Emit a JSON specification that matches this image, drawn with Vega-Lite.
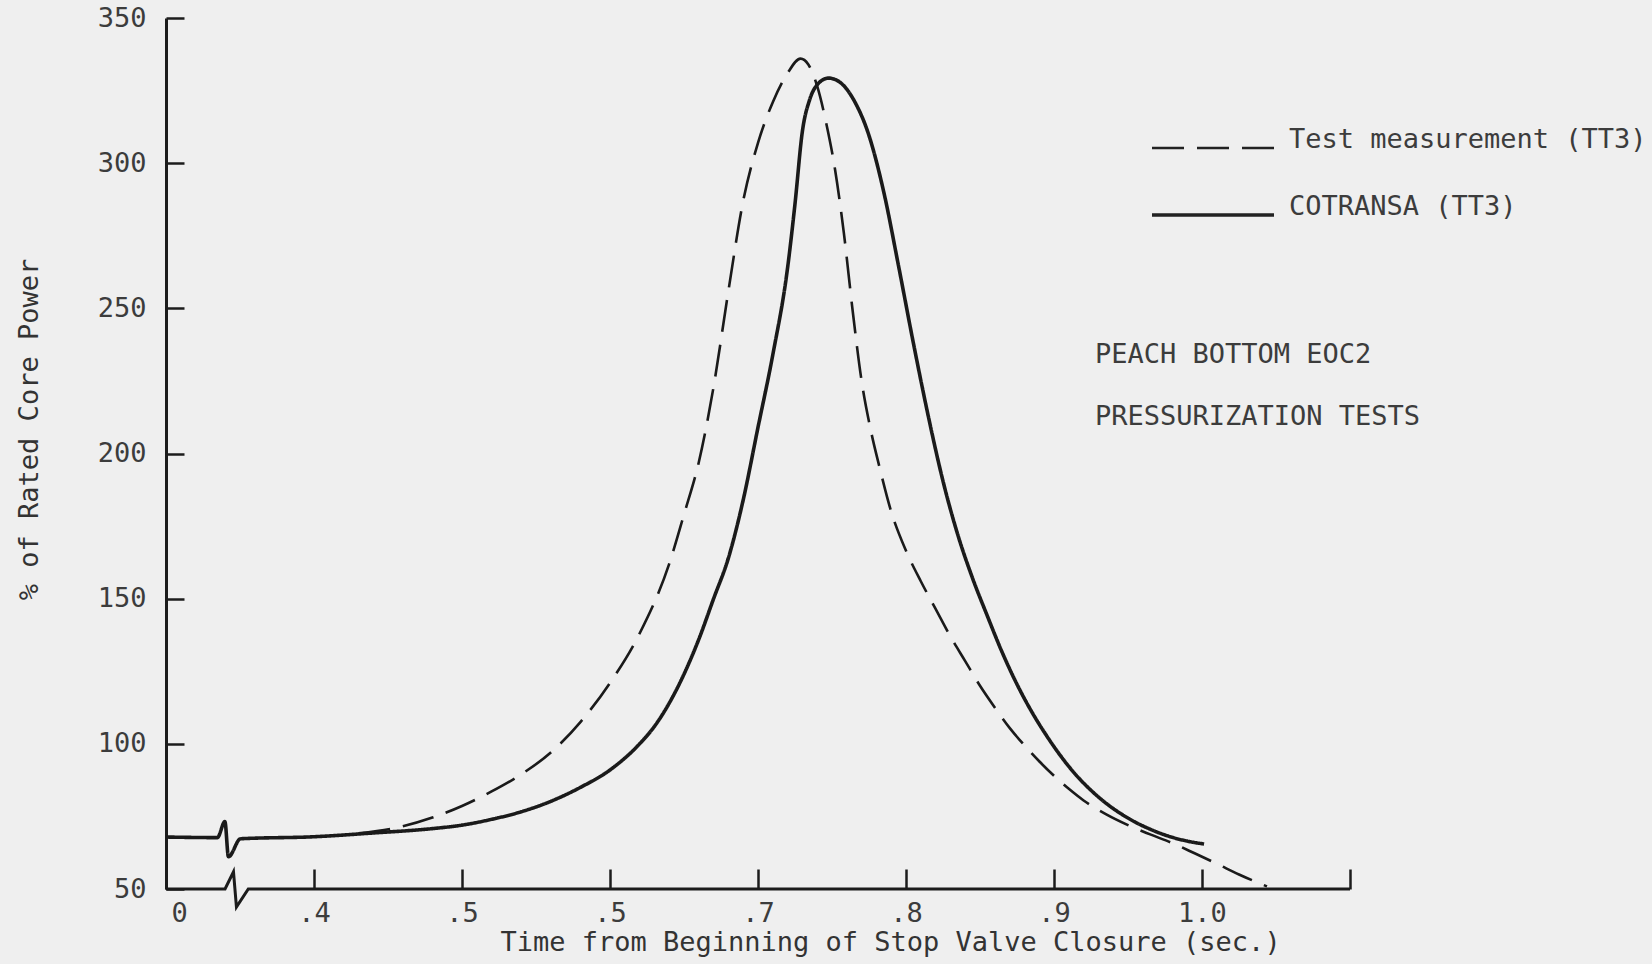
{
  "$schema": "https://vega.github.io/schema/vega-lite/v6.json",
  "width": 1184,
  "height": 871,
  "autosize": {"type": "none"},
  "padding": {"left": 166, "top": 18, "right": 302, "bottom": 75},
  "background": "#efefef",
  "config": {
    "view": {"stroke": null},
    "font": "DejaVu Sans Mono",
    "axis": {"grid": false, "labelFont": "DejaVu Sans Mono", "titleFont": "DejaVu Sans Mono", "labelFontSize": 27, "titleFontSize": 27, "titleFontWeight": "normal", "labelColor": "#3c3c3c", "titleColor": "#333333", "tickColor": "#1c1c1c", "domainColor": "#1c1c1c"}
  },
  "datasets": {
    "curves": [
      {"t": 0.3, "power": 67.9, "series": "COTRANSA (TT3)"},
      {"t": 0.3347, "power": 67.7, "series": "COTRANSA (TT3)"},
      {"t": 0.3398, "power": 73.2, "series": "COTRANSA (TT3)"},
      {"t": 0.3422, "power": 61.1, "series": "COTRANSA (TT3)"},
      {"t": 0.3504, "power": 67.3, "series": "COTRANSA (TT3)"},
      {"t": 0.40, "power": 68.0, "series": "COTRANSA (TT3)"},
      {"t": 0.44, "power": 69.3, "series": "COTRANSA (TT3)"},
      {"t": 0.48, "power": 70.8, "series": "COTRANSA (TT3)"},
      {"t": 0.50, "power": 72.0, "series": "COTRANSA (TT3)"},
      {"t": 0.52, "power": 74.0, "series": "COTRANSA (TT3)"},
      {"t": 0.54, "power": 76.6, "series": "COTRANSA (TT3)"},
      {"t": 0.56, "power": 80.2, "series": "COTRANSA (TT3)"},
      {"t": 0.58, "power": 85.0, "series": "COTRANSA (TT3)"},
      {"t": 0.60, "power": 91.0, "series": "COTRANSA (TT3)"},
      {"t": 0.62, "power": 100.0, "series": "COTRANSA (TT3)"},
      {"t": 0.63, "power": 106.0, "series": "COTRANSA (TT3)"},
      {"t": 0.64, "power": 114.0, "series": "COTRANSA (TT3)"},
      {"t": 0.65, "power": 124.0, "series": "COTRANSA (TT3)"},
      {"t": 0.66, "power": 136.0, "series": "COTRANSA (TT3)"},
      {"t": 0.67, "power": 150.0, "series": "COTRANSA (TT3)"},
      {"t": 0.68, "power": 164.0, "series": "COTRANSA (TT3)"},
      {"t": 0.69, "power": 184.0, "series": "COTRANSA (TT3)"},
      {"t": 0.70, "power": 209.0, "series": "COTRANSA (TT3)"},
      {"t": 0.71, "power": 234.0, "series": "COTRANSA (TT3)"},
      {"t": 0.72, "power": 264.0, "series": "COTRANSA (TT3)"},
      {"t": 0.725, "power": 286.0, "series": "COTRANSA (TT3)"},
      {"t": 0.73, "power": 311.0, "series": "COTRANSA (TT3)"},
      {"t": 0.735, "power": 322.0, "series": "COTRANSA (TT3)"},
      {"t": 0.74, "power": 327.0, "series": "COTRANSA (TT3)"},
      {"t": 0.7476, "power": 329.3, "series": "COTRANSA (TT3)"},
      {"t": 0.755, "power": 328.0, "series": "COTRANSA (TT3)"},
      {"t": 0.765, "power": 321.5, "series": "COTRANSA (TT3)"},
      {"t": 0.775, "power": 309.5, "series": "COTRANSA (TT3)"},
      {"t": 0.785, "power": 290.0, "series": "COTRANSA (TT3)"},
      {"t": 0.795, "power": 264.5, "series": "COTRANSA (TT3)"},
      {"t": 0.805, "power": 238.0, "series": "COTRANSA (TT3)"},
      {"t": 0.815, "power": 213.0, "series": "COTRANSA (TT3)"},
      {"t": 0.825, "power": 190.5, "series": "COTRANSA (TT3)"},
      {"t": 0.835, "power": 172.0, "series": "COTRANSA (TT3)"},
      {"t": 0.845, "power": 157.0, "series": "COTRANSA (TT3)"},
      {"t": 0.855, "power": 144.0, "series": "COTRANSA (TT3)"},
      {"t": 0.865, "power": 131.5, "series": "COTRANSA (TT3)"},
      {"t": 0.875, "power": 120.5, "series": "COTRANSA (TT3)"},
      {"t": 0.885, "power": 111.0, "series": "COTRANSA (TT3)"},
      {"t": 0.895, "power": 102.8, "series": "COTRANSA (TT3)"},
      {"t": 0.905, "power": 95.5, "series": "COTRANSA (TT3)"},
      {"t": 0.915, "power": 89.2, "series": "COTRANSA (TT3)"},
      {"t": 0.925, "power": 84.0, "series": "COTRANSA (TT3)"},
      {"t": 0.935, "power": 79.6, "series": "COTRANSA (TT3)"},
      {"t": 0.945, "power": 76.0, "series": "COTRANSA (TT3)"},
      {"t": 0.955, "power": 73.0, "series": "COTRANSA (TT3)"},
      {"t": 0.965, "power": 70.6, "series": "COTRANSA (TT3)"},
      {"t": 0.975, "power": 68.6, "series": "COTRANSA (TT3)"},
      {"t": 0.99, "power": 66.5, "series": "COTRANSA (TT3)"},
      {"t": 1.0014, "power": 65.5, "series": "COTRANSA (TT3)"},
      {"t": 0.43, "power": 69.2, "series": "Test measurement (TT3)"},
      {"t": 0.46, "power": 71.6, "series": "Test measurement (TT3)"},
      {"t": 0.48, "power": 74.6, "series": "Test measurement (TT3)"},
      {"t": 0.50, "power": 78.6, "series": "Test measurement (TT3)"},
      {"t": 0.52, "power": 83.6, "series": "Test measurement (TT3)"},
      {"t": 0.54, "power": 89.5, "series": "Test measurement (TT3)"},
      {"t": 0.56, "power": 97.0, "series": "Test measurement (TT3)"},
      {"t": 0.58, "power": 107.5, "series": "Test measurement (TT3)"},
      {"t": 0.60, "power": 121.0, "series": "Test measurement (TT3)"},
      {"t": 0.62, "power": 138.0, "series": "Test measurement (TT3)"},
      {"t": 0.64, "power": 162.0, "series": "Test measurement (TT3)"},
      {"t": 0.65, "power": 179.0, "series": "Test measurement (TT3)"},
      {"t": 0.66, "power": 197.0, "series": "Test measurement (TT3)"},
      {"t": 0.67, "power": 223.0, "series": "Test measurement (TT3)"},
      {"t": 0.68, "power": 256.0, "series": "Test measurement (TT3)"},
      {"t": 0.69, "power": 287.0, "series": "Test measurement (TT3)"},
      {"t": 0.70, "power": 307.0, "series": "Test measurement (TT3)"},
      {"t": 0.71, "power": 321.0, "series": "Test measurement (TT3)"},
      {"t": 0.72, "power": 331.0, "series": "Test measurement (TT3)"},
      {"t": 0.7287, "power": 336.0, "series": "Test measurement (TT3)"},
      {"t": 0.734, "power": 334.0, "series": "Test measurement (TT3)"},
      {"t": 0.74, "power": 326.5, "series": "Test measurement (TT3)"},
      {"t": 0.746, "power": 314.0, "series": "Test measurement (TT3)"},
      {"t": 0.752, "power": 298.0, "series": "Test measurement (TT3)"},
      {"t": 0.758, "power": 276.0, "series": "Test measurement (TT3)"},
      {"t": 0.764, "power": 249.0, "series": "Test measurement (TT3)"},
      {"t": 0.77, "power": 225.0, "series": "Test measurement (TT3)"},
      {"t": 0.776, "power": 208.5, "series": "Test measurement (TT3)"},
      {"t": 0.782, "power": 195.5, "series": "Test measurement (TT3)"},
      {"t": 0.79, "power": 180.0, "series": "Test measurement (TT3)"},
      {"t": 0.80, "power": 166.5, "series": "Test measurement (TT3)"},
      {"t": 0.81, "power": 156.0, "series": "Test measurement (TT3)"},
      {"t": 0.82, "power": 146.5, "series": "Test measurement (TT3)"},
      {"t": 0.83, "power": 137.0, "series": "Test measurement (TT3)"},
      {"t": 0.84, "power": 128.5, "series": "Test measurement (TT3)"},
      {"t": 0.85, "power": 120.0, "series": "Test measurement (TT3)"},
      {"t": 0.86, "power": 112.5, "series": "Test measurement (TT3)"},
      {"t": 0.87, "power": 105.5, "series": "Test measurement (TT3)"},
      {"t": 0.88, "power": 99.5, "series": "Test measurement (TT3)"},
      {"t": 0.89, "power": 94.0, "series": "Test measurement (TT3)"},
      {"t": 0.90, "power": 89.0, "series": "Test measurement (TT3)"},
      {"t": 0.91, "power": 84.5, "series": "Test measurement (TT3)"},
      {"t": 0.92, "power": 80.5, "series": "Test measurement (TT3)"},
      {"t": 0.935, "power": 75.8, "series": "Test measurement (TT3)"},
      {"t": 0.95, "power": 72.0, "series": "Test measurement (TT3)"},
      {"t": 0.965, "power": 68.8, "series": "Test measurement (TT3)"},
      {"t": 0.98, "power": 65.8, "series": "Test measurement (TT3)"},
      {"t": 0.995, "power": 62.3, "series": "Test measurement (TT3)"},
      {"t": 1.01, "power": 58.7, "series": "Test measurement (TT3)"},
      {"t": 1.025, "power": 55.0, "series": "Test measurement (TT3)"},
      {"t": 1.0439, "power": 50.9, "series": "Test measurement (TT3)"}
    ],
    "baseline": [
      {"t": 0.3, "power": 50},
      {"t": 0.3399, "power": 50},
      {"t": 0.3456, "power": 55.9},
      {"t": 0.3476, "power": 43.8},
      {"t": 0.3556, "power": 50},
      {"t": 1.1, "power": 50}
    ]
  },
  "layer": [
    {
      "data": {"name": "baseline"},
      "mark": {"type": "line", "stroke": "#1c1c1c", "strokeWidth": 3, "strokeJoin": "miter"},
      "encoding": {
        "x": {
          "field": "t", "type": "quantitative",
          "scale": {"domain": [0.3, 1.1], "nice": false, "zero": false},
          "axis": {
            "values": [0.3, 0.4, 0.5, 0.6, 0.7, 0.8, 0.9, 1.0, 1.1],
            "labelExpr": "datum.value < 0.35 ? '0' : datum.value < 0.45 ? '.4' : datum.value < 0.55 ? '.5' : datum.value < 0.65 ? '.5' : datum.value < 0.75 ? '.7' : datum.value < 0.85 ? '.8' : datum.value < 0.95 ? '.9' : datum.value < 1.05 ? '1.0' : ''",
            "domain": false,
            "tickSize": -20,
            "tickWidth": 2.5,
            "labelPadding": 31,
            "labelFlush": true,
            "labelFlushOffset": -5,
            "labelBaseline": "top",
            "title": "Time from Beginning of Stop Valve Closure (sec.)",
            "titleX": 724,
            "titleY": 53,
            "titleAlign": "center",
            "titleBaseline": "middle",
            "titleAnchor": null
          }
        },
        "y": {
          "field": "power", "type": "quantitative",
          "scale": {"domain": [50, 350], "nice": false, "zero": false},
          "axis": {
            "values": [50, 100, 150, 200, 250, 300, 350],
            "domainWidth": 3,
            "tickSize": -18,
            "tickWidth": 2.5,
            "labelPadding": 38,
            "title": "% of Rated Core Power",
            "titleX": -137,
            "titleY": 411,
            "titleAngle": -90,
            "titleAlign": "center",
            "titleBaseline": "middle"
          }
        }
      }
    },
    {
      "data": {"name": "curves"},
      "mark": {"type": "line", "interpolate": "monotone", "stroke": "#1a1a1a"},
      "encoding": {
        "x": {"field": "t", "type": "quantitative"},
        "y": {"field": "power", "type": "quantitative"},
        "detail": {"field": "series", "type": "nominal"},
        "strokeDash": {
          "field": "series", "type": "nominal",
          "scale": {"domain": ["Test measurement (TT3)", "COTRANSA (TT3)"], "range": [[32, 13], [1, 0]]},
          "legend": {
            "orient": "none",
            "legendX": 984,
            "legendY": 100,
            "title": null,
            "padding": 0,
            "symbolType": "stroke",
            "symbolSize": 14884,
            "symbolStrokeWidth": 3,
            "symbolStrokeColor": "#222222",
            "clipHeight": 60,
            "rowPadding": 7,
            "labelFont": "DejaVu Sans Mono",
            "labelFontSize": 27,
            "labelColor": "#3c3c3c",
            "labelOffset": 13,
            "labelBaseline": "alphabetic",
            "labelLimit": 0
          }
        },
        "strokeWidth": {
          "field": "series", "type": "nominal",
          "scale": {"domain": ["Test measurement (TT3)", "COTRANSA (TT3)"], "range": [2.6, 3.6]},
          "legend": null
        }
      }
    },
    {
      "data": {"values": [{}]},
      "mark": {
        "type": "text",
        "text": ["PEACH BOTTOM EOC2", "PRESSURIZATION TESTS"],
        "align": "left",
        "baseline": "alphabetic",
        "lineHeight": 62.3,
        "font": "DejaVu Sans Mono",
        "fontSize": 27,
        "color": "#3c3c3c"
      },
      "encoding": {
        "x": {"datum": 0.9277, "type": "quantitative"},
        "y": {"datum": 231.3, "type": "quantitative"}
      }
    }
  ]
}
